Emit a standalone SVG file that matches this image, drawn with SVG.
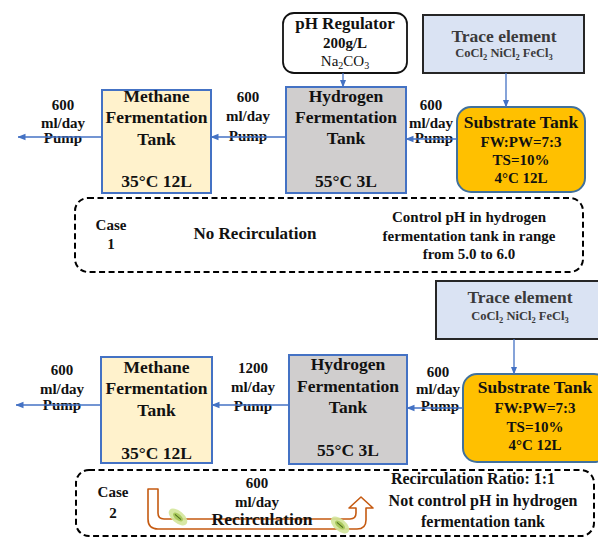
<svg xmlns="http://www.w3.org/2000/svg" width="598" height="538" viewBox="0 0 598 538">
<defs>
<marker id="ah" markerWidth="8" markerHeight="8" refX="7.5" refY="4" orient="auto" markerUnits="userSpaceOnUse"><path d="M0,0.8 L8,4 L0,7.2 z" fill="#4472c4"/></marker>
</defs>
<style>
text{font-family:"Liberation Serif","Times New Roman",serif;text-anchor:middle;fill:#111}
.t{font-size:17.5px;font-weight:bold}
.l{font-size:15px;font-weight:bold}
.s{font-size:15px;font-weight:bold}
.tank{stroke:#4472c4;stroke-width:2}
.meth{fill:#fff2cc}
.hyd{fill:#d0cece}
.sub{fill:#ffc000;stroke:#41719c;stroke-width:2}
.trace{fill:#dae3f3;stroke:#262626;stroke-width:2}
.tr{fill:#3a3a3a;font-weight:bold}
.conn{stroke:#4472c4;stroke-width:1.3;fill:none}
.case{fill:none;stroke:#000;stroke-width:2;stroke-dasharray:6 3.5}
</style>
<rect width="598" height="538" fill="#fff"/>

<!-- Case 1 -->
<g id="ph-regulator">
<rect x="283" y="13" width="124" height="60" rx="11" fill="#fff" stroke="#111" stroke-width="1.8"/>
<text x="345" y="29" style="font-size:17px;font-weight:bold">pH Regulator</text>
<text x="345" y="48" class="s">200g/L</text>
<text x="345" y="66" style="font-size:15px">Na<tspan font-size="10" dy="3">2</tspan><tspan dy="-3">CO</tspan><tspan font-size="10" dy="3">3</tspan></text>
</g>
<g id="trace-1">
<rect x="423" y="15" width="161" height="58" class="trace"/>
<text x="504" y="42" class="tr" style="font-size:17.5px">Trace element</text>
<text x="504" y="57" class="tr" style="font-size:12.5px">CoCl<tspan font-size="8.5" dy="2.5">2</tspan><tspan dy="-2.5"> NiCl</tspan><tspan font-size="8.5" dy="2.5">2</tspan><tspan dy="-2.5"> FeCl</tspan><tspan font-size="8.5" dy="2.5">3</tspan></text>
</g>
<g id="methane-1">
<rect x="102" y="90" width="109" height="103" class="tank meth"/>
<text x="156.5" y="102" class="t">Methane</text>
<text x="156.5" y="123" class="t">Fermentation</text>
<text x="156.5" y="145" class="t">Tank</text>
<text x="156.5" y="187" class="t">35°C 12L</text>
</g>
<g id="hydrogen-1">
<rect x="286" y="87" width="120" height="106" class="tank hyd"/>
<text x="346" y="102" class="t">Hydrogen</text>
<text x="346" y="123" class="t">Fermentation</text>
<text x="346" y="144" class="t">Tank</text>
<text x="346" y="187" class="t">55°C 3L</text>
</g>
<g id="substrate-1">
<rect x="457" y="107" width="128" height="85" rx="14" class="sub"/>
<text x="521" y="128" class="t">Substrate Tank</text>
<text x="521" y="147" class="s">FW:PW=7:3</text>
<text x="521" y="165" class="s">TS=10%</text>
<text x="521" y="183" class="s">4°C 12L</text>
</g>
<g id="case-1">
<rect x="75" y="198" width="508" height="74" rx="13" class="case"/>
<text x="111" y="230" style="font-size:15px;font-weight:bold">Case</text>
<text x="111" y="249" style="font-size:15px;font-weight:bold">1</text>
<text x="255" y="239" style="font-size:17px;font-weight:bold">No Recirculation</text>
<text x="469" y="222" class="s">Control pH in hydrogen</text>
<text x="469" y="241" class="s">fermentation tank in range</text>
<text x="469" y="259" class="s">from 5.0 to 6.0</text>
</g>

<!-- Case 2 -->
<g id="trace-2">
<rect x="436" y="281" width="170" height="58" class="trace"/>
<text x="520" y="303" class="tr" style="font-size:17.5px">Trace element</text>
<text x="520" y="320" class="tr" style="font-size:12.5px">CoCl<tspan font-size="8.5" dy="2.5">2</tspan><tspan dy="-2.5"> NiCl</tspan><tspan font-size="8.5" dy="2.5">2</tspan><tspan dy="-2.5"> FeCl</tspan><tspan font-size="8.5" dy="2.5">3</tspan></text>
</g>
<g id="methane-2">
<rect x="101" y="357" width="111" height="106" class="tank meth"/>
<text x="156.5" y="373" class="t">Methane</text>
<text x="156.5" y="394" class="t">Fermentation</text>
<text x="156.5" y="416" class="t">Tank</text>
<text x="156.5" y="459" class="t">35°C 12L</text>
</g>
<g id="hydrogen-2">
<rect x="289" y="355" width="118" height="109" class="tank hyd"/>
<text x="348" y="370" class="t">Hydrogen</text>
<text x="348" y="392" class="t">Fermentation</text>
<text x="348" y="413" class="t">Tank</text>
<text x="348" y="456" class="t">55°C 3L</text>
</g>
<g id="substrate-2">
<rect x="463" y="374" width="145" height="88" rx="14" class="sub"/>
<text x="535" y="393" class="t">Substrate Tank</text>
<text x="535" y="413" class="s">FW:PW=7:3</text>
<text x="535" y="432" class="s">TS=10%</text>
<text x="535" y="450" class="s">4°C 12L</text>
</g>
<g id="case-2">
<rect x="76" y="470" width="518" height="66" rx="13" class="case"/>
<text x="113" y="497" style="font-size:15px;font-weight:bold">Case</text>
<text x="113" y="518" style="font-size:15px;font-weight:bold">2</text>
<path d="M148,489 L158,489 L158,513 Q158,519 164,519 L350,519 Q356,519 356,513 L356,508 L349,508 L361,497 L373,508 L366,508 L366,520 Q366,529 357,529 L158,529 Q148,529 148,519 Z" fill="#fff" stroke="#c55a11" stroke-width="1.6" stroke-linejoin="round"/>
<g transform="translate(178,517) rotate(40)"><ellipse rx="11" ry="6" fill="#d3e69a" opacity="0.9"/><ellipse rx="6" ry="3" fill="#a9c95e"/><line x1="-4" y1="0" x2="4" y2="0" stroke="#4c6b1e" stroke-width="1"/></g>
<g transform="translate(340,525) rotate(40)"><ellipse rx="11" ry="6" fill="#d3e69a" opacity="0.9"/><ellipse rx="6" ry="3" fill="#a9c95e"/><line x1="-4" y1="0" x2="4" y2="0" stroke="#4c6b1e" stroke-width="1"/></g>
<text x="257" y="488" class="l">600</text>
<text x="257" y="507" class="l">ml/day</text>
<text x="262" y="525" class="t">Recirculation</text>
<text x="473" y="484" style="font-size:16px;font-weight:bold">Recirculation Ratio: 1:1</text>
<text x="483" y="506" style="font-size:16px;font-weight:bold">Not control pH in hydrogen</text>
<text x="483" y="527" style="font-size:16px;font-weight:bold">fermentation tank</text>
</g>

<g id="connectors">
<path d="M343,73 L343,87" class="conn" marker-end="url(#ah)"/>
<path d="M506,73 L506,107" class="conn" marker-end="url(#ah)"/>
<text x="431" y="110" class="l">600</text>
<text x="431" y="128" class="l">ml/day</text>
<text x="434" y="143" class="l">Pump</text>
<path d="M457,139 L406,139" class="conn" marker-end="url(#ah)"/>
<text x="248" y="102" class="l">600</text>
<text x="248" y="121" class="l">ml/day</text>
<text x="248" y="141" class="l">Pump</text>
<path d="M286,137 L211,137" class="conn" marker-end="url(#ah)"/>
<text x="63" y="110" class="l">600</text>
<text x="63" y="128" class="l">ml/day</text>
<text x="63" y="143" class="l">Pump</text>
<path d="M102,137 L18,137" class="conn" marker-end="url(#ah)"/>

<path d="M514,339 L514,374" class="conn" marker-end="url(#ah)"/>
<text x="438" y="377" class="l">600</text>
<text x="438" y="394" class="l">ml/day</text>
<text x="440" y="411" class="l">Pump</text>
<path d="M463,408 L407,408" class="conn" marker-end="url(#ah)"/>
<text x="253" y="373" class="l">1200</text>
<text x="253" y="392" class="l">ml/day</text>
<text x="253" y="411" class="l">Pump</text>
<path d="M289,405 L212,405" class="conn" marker-end="url(#ah)"/>
<text x="62" y="375" class="l">600</text>
<text x="62" y="394" class="l">ml/day</text>
<text x="62" y="410" class="l">Pump</text>
<path d="M101,405 L16,405" class="conn" marker-end="url(#ah)"/>
</g>
</svg>
